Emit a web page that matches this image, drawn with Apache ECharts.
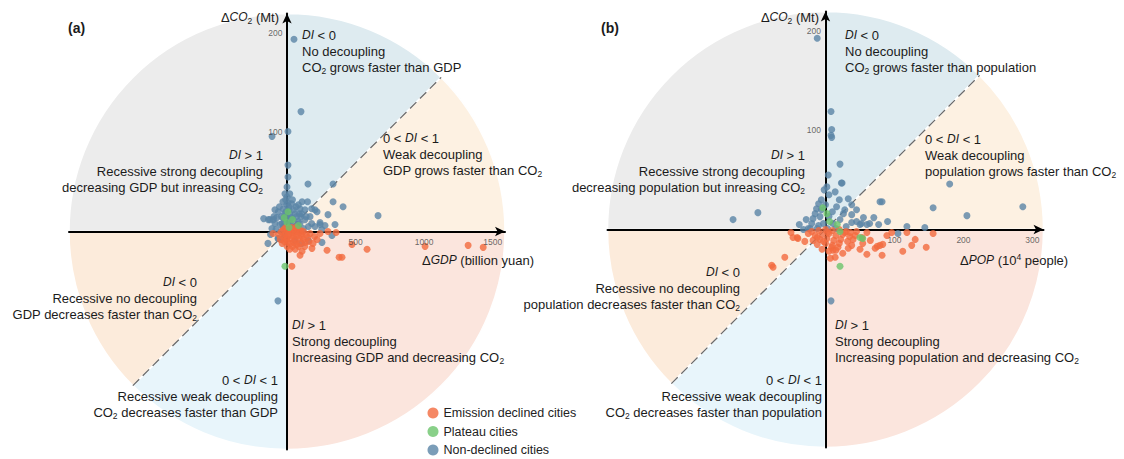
<!DOCTYPE html>
<html>
<head>
<meta charset="utf-8">
<script src="https://cdn.jsdelivr.net/npm/echarts@6/dist/echarts.min.js"></script>
<style>
  html, body { margin: 0; padding: 0; background: #fff; }
  #chart { width: 1124px; height: 459px; }
</style>
</head>
<body>
<div id="chart"></div>
<script>
// ---------- data: panel (a) [ΔGDP (billion yuan), ΔCO2 (Mt)] ----------
const gdpNonDeclined = [
  [51,194],[102,121],[7,101],[-109,96],[7,67],[7,55],[0,45],[0,35],[7,29],[153,48],[336,48],
  [219,20],[336,30],[409,25],[664,16],[299,17],[241,9],[95,23],[277,6],[350,7],[255,-11],[328,-4],
  [-139,-12],[-66,-7],[-66,-70],
  [-136,12],[-100,12],[-88,22],[-63,20],[-27,23],[-2,27],[34,28],[83,27],[58,18],[107,18],[131,22],
  [168,15],[180,23],[204,22],[22,17],[-51,7],[-88,8],[-27,5],[10,10],[83,10],[131,12],[156,5],
  [204,5],[241,7],[253,2],[34,5],[-63,-7],[58,-9],[107,-12],[156,-9],
  [-40,15],[-15,18],[15,22],[45,12],[70,15],[95,8],[-20,10],[5,3],[-45,0],[-110,3],[120,3],
  [180,8],[60,3],[30,14],[-10,32],[20,38],[-30,30],[110,30],[150,30],[-75,14],[-124,12],[-170,13],
  [-5,15],[12,25],[25,8],[48,22],[65,25],[-55,25],[-35,8],[-95,15],[75,5],[140,15],[100,15],
  [-15,38],[-40,-8],[-20,-5],[-120,-3],[-80,2],[-8,20],[40,32],[-25,14],[90,18]
];
const gdpPlateau = [[7,20],[0,9],[83,6],[-15,-35],[40,12],[15,4],[-20,14]];
const gdpDeclined = [
  [-102,-2],[168,-2],[241,-2],[299,0],[358,-1],[474,-13],[584,-18],[380,-26],[292,-19],[182,-17],
  [95,-24],[0,-15],[1007,-15],[1321,-14],[1431,-16],[36,-35],[401,-26],[131,-11],[190,-12],
  [-40,0],[-25,2],[-10,4],[0,1],[10,3],[20,0],[30,2],[40,-1],[50,1],[60,-2],[70,0],[80,2],[90,-1],
  [100,1],[110,-2],[120,0],[140,-3],[-30,-5],[-15,-3],[0,-6],[15,-4],[30,-7],[45,-5],[60,-8],
  [75,-4],[90,-7],[105,-5],[120,-8],[-20,-10],[5,-11],[25,-12],[50,-11],[70,-13],[95,-12],
  [150,-6],[10,-2],[35,4],[65,4],[-5,-8],[40,-15],[20,-18],[60,-18],[-50,-8],
  [-60,-3],[-35,-12],[160,-10],[130,-15],[110,-20],[85,-15],[200,-5],[220,-8]
];

// ---------- data: panel (b) [ΔPOP (10^4 people), ΔCO2 (Mt)] ----------
const popNonDeclined = [
  [-12,193],[8,119],[9,101],[8,95],[9,93],[21,66],[24,47],[4,55],[2,43],[-98,17],[-134,10],
  [180,46],[82,28],[156,22],[205,14],[286,23],[144,2],[105,-4],[8,-72],
  [33,31],[-6,30],[-13,21],[-6,20],[16,23],[26,16],[38,25],[38,15],[45,8],[52,6],[64,6],[77,5],
  [-25,1],[-32,0],[-18,11],[-3,6],[11,6],[21,10],[-8,13],[5,13],[79,28],[-15,16],[23,47],[60,5],
  [50,5],[38,7],[118,3],[-22,1],[0,25],[10,18],[30,3],[-10,4],[20,30],[-20,6],
  [-10,26],[5,35],[14,38],[-2,40],[28,20],[45,20],[55,12],[-28,10],[-38,5],[70,12],[90,8],
  [15,1],[-12,1],[3,1]
];
const popPlateau = [[2,16],[6,8],[21,-2],[17,5],[50,-8],[21,-37],[54,-9],[-4,22]];
const popDeclined = [
  [-41,-8],[-78,-36],[-59,-28],[-76,-38],[75,-17],[83,-15],[82,-26],[38,-16],[54,-14],[11,-21],
  [96,-3],[118,-3],[156,-4],[146,-18],[72,-19],[79,-16],[53,-8],[43,-6],[36,-3],[28,-3],[33,-19],
  [18,-18],[9,-18],[14,-28],[7,-29],[-47,-8],[-40,-9],[-12,-8],
  [-20,-2],[-10,-1],[0,0],[10,-1],[20,0],[30,-2],[-15,-6],[-5,-5],[5,-4],[15,-6],[25,-5],[35,-7],
  [-18,-11],[-8,-10],[2,-9],[12,-11],[22,-10],[32,-12],[-12,-15],[0,-14],[10,-16],[20,-14],
  [-5,-20],[5,-22],[15,-21],[25,-24],[-25,-4],[40,-10],[45,-2],[3,-3],[-3,-12],[60,-3],[65,-11],[89,-6],
  [-30,-12],[50,-20],[60,-25],[125,-16],[-50,-3],[130,-10],[112,-22]
];

// ---------- ticks and sectors ----------
const gdpTicks = [500, 1000, 1500];
const popTicks = [100, 200, 300];
const co2Ticks = [100, 200];
const sectorNames = ['No decoupling', 'Weak decoupling', 'Strong decoupling',
  'Recessive weak decoupling', 'Recessive no decoupling', 'Recessive strong decoupling'];
const sectorAngles = [45, 45, 90, 45, 45, 90];

const seriesNames = ['Emission declined cities', 'Plateau cities', 'Non-declined cities'];

// ---------- layout & style ----------
const FONT = '"Liberation Sans", Arial, Helvetica, sans-serif';
const sectorColors = ['#deebf0', '#fdf1e2', '#fbe5dd', '#e8f5fb', '#fcebdb', '#ececec'];
const pointColors = { declined: '#f36a3e', plateau: '#6cc46b', non: '#5a84a6' };
const panels = [
  { left: 69, top: 13.5, size: 436, xExt: 1590, yExt: 220, xTicks: gdpTicks },
  { left: 607.5, top: 11.5, size: 436, xExt: 316, yExt: 220, xTicks: popTicks }
];

const rich = {
  i: { fontStyle: 'italic', fontFamily: FONT },
  s: { fontSize: 8.5, verticalAlign: 'bottom', lineHeight: 8, fontFamily: FONT },
  p: { fontSize: 8.5, verticalAlign: 'top', lineHeight: 8, fontFamily: FONT }
};

function label(x, y, text, align, extra) {
  return {
    type: 'text', x: x, y: y, silent: true, z: 10,
    style: Object.assign({
      text: text, rich: rich, fill: '#1b1b1b', fontSize: 13, fontFamily: FONT,
      align: align, verticalAlign: 'middle', lineHeight: 16
    }, extra || {})
  };
}

function note(x, y, align, lines) {
  return lines.map((t, k) => label(x, y + k * 16.3, t, align));
}

const notes = [
  // panel (a)
  note(302, 35, 'left', ['{i|DI} < 0', 'No decoupling', 'CO{s|2} grows faster than GDP']),
  note(383, 138, 'left', ['0 < {i|DI} < 1', 'Weak decoupling', 'GDP grows faster than CO{s|2}']),
  note(263, 155, 'right', ['{i|DI} > 1', 'Recessive strong decoupling', 'decreasing GDP but inreasing CO{s|2}']),
  note(197, 282, 'right', ['{i|DI} < 0', 'Recessive no decoupling', 'GDP decreases faster than CO{s|2}']),
  note(278, 380, 'right', ['0 < {i|DI} < 1', 'Recessive weak decoupling', 'CO{s|2} decreases faster than GDP']),
  note(292, 325, 'left', ['{i|DI} > 1', 'Strong decoupling', 'Increasing GDP and decreasing CO{s|2}']),
  // panel (b)
  note(845, 35, 'left', ['{i|DI} < 0', 'No decoupling', 'CO{s|2} grows faster than population']),
  note(925, 139, 'left', ['0 < {i|DI} < 1', 'Weak decoupling', 'population grows faster than CO{s|2}']),
  note(805, 155, 'right', ['{i|DI} > 1', 'Recessive strong decoupling', 'decreasing population but inreasing CO{s|2}']),
  note(740, 272, 'right', ['{i|DI} < 0', 'Recessive no decoupling', 'population decreases faster than CO{s|2}']),
  note(822, 380, 'right', ['0 < {i|DI} < 1', 'Recessive weak decoupling', 'CO{s|2} decreases faster than population']),
  note(835, 325, 'left', ['{i|DI} > 1', 'Strong decoupling', 'Increasing population and decreasing CO{s|2}'])
].flat();

const titles = [
  label(68, 28, '(a)', 'left', { fontSize: 14, fontWeight: 'bold' }),
  label(601, 28, '(b)', 'left', { fontSize: 14, fontWeight: 'bold' }),
  label(279, 17, 'Δ{i|CO}{s|2} (Mt)', 'right'),
  label(819, 17, 'Δ{i|CO}{s|2} (Mt)', 'right'),
  label(422, 260, 'Δ{i|GDP} (billion yuan)', 'left'),
  label(960, 260, 'Δ{i|POP} (10{p|4} people)', 'left')
];

const axisLineStyle = { color: '#000', width: 2 };
const tickLabel = { color: '#444', fontSize: 8.5, fontFamily: FONT };

const option = {
  animation: false,
  backgroundColor: '#fff',
  grid: panels.map(p => ({ left: p.left, top: p.top, width: p.size, height: p.size, containLabel: false })),
  xAxis: panels.map((p, i) => ({
    gridIndex: i, type: 'value', min: -p.xExt, max: p.xExt, z: 1,
    axisLine: { onZero: true, symbol: ['none', 'arrow'], symbolSize: [7, 10], lineStyle: axisLineStyle },
    axisTick: { show: false }, splitLine: { show: false }, axisLabel: { show: false }
  })),
  yAxis: panels.map((p, i) => ({
    gridIndex: i, type: 'value', min: -p.yExt, max: p.yExt, z: 1,
    axisLine: { onZero: true, symbol: ['none', 'arrow'], symbolSize: [7, 10], lineStyle: axisLineStyle },
    axisTick: { show: false }, splitLine: { show: false }, axisLabel: { show: false }
  })),
  legend: {
    data: seriesNames, orient: 'vertical', left: 427.5, top: 405.5, height: 120, padding: 0,
    icon: 'circle', itemWidth: 11, itemHeight: 11, itemGap: 3.5, selectedMode: false,
    textStyle: { fontSize: 12.5, color: '#222', fontFamily: FONT, lineHeight: 15 }
  },
  graphic: { elements: notes.concat(titles) },
  series: []
};

panels.forEach((p, i) => {
  const cx = p.left + p.size / 2, cy = p.top + p.size / 2;
  // quadrant / half-quadrant backgrounds
  option.series.push({
    type: 'pie', center: [cx, cy], radius: [0, p.size / 2], startAngle: 90, clockwise: true,
    silent: true, z: 0, avoidLabelOverlap: false,
    label: { show: false }, labelLine: { show: false }, emphasis: { disabled: true },
    itemStyle: { borderColor: '#fff', borderWidth: 1.5 },
    data: sectorAngles.map((v, k) => ({ value: v, name: sectorNames[k], itemStyle: { color: sectorColors[k] } }))
  });
  // DI = 1 diagonal (dashed), from the axis extents
  const c = Math.SQRT1_2;
  option.series.push({
    type: 'line', xAxisIndex: i, yAxisIndex: i, silent: true, z: 1,
    symbol: 'none', lineStyle: { color: '#6b6b6b', width: 1.3, type: [9, 5] },
    data: [[-p.xExt * c, -p.yExt * c], [p.xExt * c, p.yExt * c]]
  });
  // tick labels sitting on the zero lines, drawn above the points
  option.series.push({
    type: 'scatter', xAxisIndex: i, yAxisIndex: i, silent: true, z: 5, symbolSize: 1,
    itemStyle: { color: 'transparent' },
    data: p.xTicks.map(v => [v, 0]),
    label: Object.assign({ show: true, position: 'bottom', distance: 5, formatter: d => String(d.value[0]) }, tickLabel)
  });
  option.series.push({
    type: 'scatter', xAxisIndex: i, yAxisIndex: i, silent: true, z: 5, symbolSize: 1,
    itemStyle: { color: 'transparent' },
    data: co2Ticks.map(v => [0, v]),
    label: Object.assign({ show: true, position: 'left', distance: 4, formatter: d => String(d.value[1]) }, tickLabel)
  });
});

const sets = [
  [gdpNonDeclined, gdpPlateau, gdpDeclined],
  [popNonDeclined, popPlateau, popDeclined]
];
sets.forEach((s, i) => {
  const common = { type: 'scatter', xAxisIndex: i, yAxisIndex: i, symbolSize: 7, silent: true, z: 3 };
  option.series.push(Object.assign({ name: seriesNames[2], data: s[0], itemStyle: { color: pointColors.non } }, common));
  option.series.push(Object.assign({ name: seriesNames[0], data: s[2], itemStyle: { color: pointColors.declined } }, common));
  option.series.push(Object.assign({ name: seriesNames[1], data: s[1], itemStyle: { color: pointColors.plateau } }, common));
});

const chart = echarts.init(document.getElementById('chart'), null, { renderer: 'svg' });
chart.setOption(option);
</script>
</body>
</html>
